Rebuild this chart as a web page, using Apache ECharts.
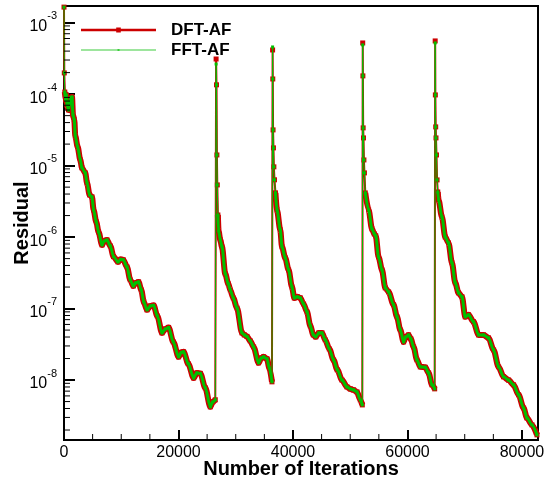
<!DOCTYPE html>
<html>
<head>
<meta charset="utf-8">
<script src="https://cdn.jsdelivr.net/npm/echarts@6/dist/echarts.min.js"></script>
<style>html,body{margin:0;padding:0;background:#fff}#c{width:545px;height:485px}</style>
</head>
<body>
<div id="c"></div>
<script>
// ---- data ----
const iterations = [
  0, 50, 140, 280, 400, 520, 800, 1100, 1400, 1570, 1800, 1970, 2380, 2850, 3140, 3720, 4020, 4470, 4890, 5170,
  5640, 6040, 6640, 7040, 7510, 8090, 8660, 9430, 9920, 10360, 11000, 11580, 12110, 12540, 13030, 13500, 13940, 14500, 15070, 15650,
  16300, 17120, 17700, 18270, 19090, 20020, 20490, 20890, 21710, 22640, 23200, 23810, 24680, 25560, 25990, 26430,
  26570, 26640, 26710, 26780, 26880, 27000, 27300, 27600, 28170, 28700, 29050, 29570, 30220, 31090, 31500, 31960, 32540, 33120, 33990, 34470, 34870, 35460, 35870, 36330,
  36440, 36470, 36520, 36590, 36660, 36770, 36940, 37200, 37780, 38080, 38650, 39230, 39820, 40230, 40750, 41280, 41850, 42450, 43020, 43550, 43980, 44510, 45070, 45640, 46340, 47090, 47740, 48560, 49430, 50010, 50590, 51180, 51760, 52110,
  52180, 52210, 52260, 52320, 52390, 52480, 52630, 53210, 53800, 54200, 54460, 54950, 55550, 56120, 56700, 57570, 58170, 58740, 59320, 59710, 60190, 60580, 61070, 61660, 62240, 63110, 63690, 64280, 64750,
  64840, 64870, 64930, 64980, 65070, 65170, 65290, 65430, 66020, 66600, 67170, 67770, 68350, 68920, 69520, 70090, 70670, 71540, 72420, 73290, 74160, 75040, 75910, 76780, 77660, 78530, 79410, 80280, 80870, 81750, 82620
];
const dftResidual = [
  1.65e-3, 1.98e-4, 1.07e-4, 8.3e-5, 9.75e-5, 7.06e-5, 6.01e-5, 8.86e-5, 9.14e-5, 5.12e-5, 4.36e-5, 2.6e-5, 1.83e-5, 1.2e-5, 9.29e-6, 7.91e-6, 5.73e-6, 3.89e-6, 3.65e-6, 2.4e-6,
  1.63e-6, 1.18e-6, 7.78e-7, 8.85e-7, 9.14e-7, 7.53e-7, 5.33e-7, 4.5e-7, 4.88e-7, 4.8e-7, 3.83e-7, 2.52e-7, 2.07e-7, 2.29e-7, 2.36e-7, 1.82e-7, 1.24e-7, 9.59e-8, 1.09e-7, 1.11e-7,
  7.88e-8, 4.57e-8, 5.19e-8, 5.45e-8, 3.42e-8, 2.11e-8, 2.44e-8, 2.48e-8, 1.69e-8, 1.07e-8, 1.26e-8, 1.24e-8, 7.78e-9, 4.22e-9, 4.95e-9, 5.3e-9,
  3.1e-4, 1.35e-4, 1.41e-5, 5.37e-6, 2.04e-6, 1.22e-6, 9.14e-7, 7.3e-7, 3.06e-7, 2.22e-7, 1.82e-7, 1.41e-7, 1.02e-7, 4.57e-8, 4.28e-8, 4.08e-8, 3.53e-8, 2.91e-8, 1.74e-8, 2.04e-8, 2.11e-8, 1.98e-8, 1.48e-8, 9.44e-9,
  4.15e-4, 1.63e-4, 3.16e-5, 1.77e-5, 9.61e-6, 6.33e-6, 4.16e-6, 2.4e-6, 1.26e-6, 7.3e-7, 5.12e-7, 3.48e-7, 2.01e-7, 1.41e-7, 1.46e-7, 1.41e-7, 1.16e-7, 9.0e-8, 5.73e-8, 4.28e-8, 4.02e-8, 4.57e-8, 4.57e-8, 3.65e-8, 2.73e-8, 1.91e-8, 1.39e-8, 1.0e-8, 8.02e-9, 7.52e-9, 7.28e-9, 6.82e-9, 5.27e-9, 4.49e-9,
  5.2e-4, 1.8e-4, 3.37e-5, 2.44e-5, 1.2e-5, 7.91e-6, 4.15e-6, 2.4e-6, 1.3e-6, 1.11e-6, 1.04e-6, 5.28e-7, 3.48e-7, 1.95e-7, 1.71e-7, 1.13e-7, 7.66e-8, 5.04e-8, 3.42e-8, 4.02e-8, 4.28e-8, 3.77e-8, 2.91e-8, 1.91e-8, 1.53e-8, 1.51e-8, 1.26e-8, 8.57e-9, 7.53e-9,
  5.55e-4, 9.75e-5, 3.48e-5, 2.44e-5, 1.41e-5, 6.31e-6, 4.28e-6, 3.31e-6, 1.91e-6, 1.0e-6, 8.29e-7, 4.36e-7, 2.29e-7, 1.66e-7, 1.46e-7, 7.66e-8, 8.17e-8, 6.52e-8, 4.28e-8, 4.28e-8, 3.89e-8, 2.64e-8, 1.53e-8, 1.11e-8, 1.0e-8, 8.57e-9, 6.21e-9, 4.07e-9, 2.95e-9, 2.36e-9, 1.71e-9
];
const fftResidual = [
  1.65e-3, 1.98e-4, 1.07e-4, 8.3e-5, 9.75e-5, 7.06e-5, 6.01e-5, 8.86e-5, 9.14e-5, 5.12e-5, 4.36e-5, 2.6e-5, 1.83e-5, 1.2e-5, 9.29e-6, 7.91e-6, 5.73e-6, 3.89e-6, 3.65e-6, 2.4e-6,
  1.63e-6, 1.18e-6, 7.78e-7, 8.85e-7, 9.14e-7, 7.53e-7, 5.33e-7, 4.5e-7, 4.88e-7, 4.8e-7, 3.83e-7, 2.52e-7, 2.07e-7, 2.29e-7, 2.36e-7, 1.82e-7, 1.24e-7, 9.59e-8, 1.09e-7, 1.11e-7,
  7.88e-8, 4.57e-8, 5.19e-8, 5.45e-8, 3.42e-8, 2.11e-8, 2.44e-8, 2.48e-8, 1.69e-8, 1.07e-8, 1.26e-8, 1.24e-8, 7.78e-9, 4.22e-9, 4.95e-9, 5.3e-9,
  2.64e-4, 1.35e-4, 1.41e-5, 5.37e-6, 2.04e-6, 1.22e-6, 9.14e-7, 7.3e-7, 3.06e-7, 2.22e-7, 1.82e-7, 1.41e-7, 1.02e-7, 4.57e-8, 4.28e-8, 4.08e-8, 3.53e-8, 2.91e-8, 1.74e-8, 2.04e-8, 2.11e-8, 1.98e-8, 1.48e-8, 9.44e-9,
  4.57e-4, 1.63e-4, 3.16e-5, 1.77e-5, 9.61e-6, 6.33e-6, 4.16e-6, 2.4e-6, 1.26e-6, 7.3e-7, 5.12e-7, 3.48e-7, 2.01e-7, 1.41e-7, 1.46e-7, 1.41e-7, 1.16e-7, 9.0e-8, 5.73e-8, 4.28e-8, 4.02e-8, 4.57e-8, 4.57e-8, 3.65e-8, 2.73e-8, 1.91e-8, 1.39e-8, 1.0e-8, 8.02e-9, 7.52e-9, 7.28e-9, 6.82e-9, 5.27e-9, 4.49e-9,
  4.88e-4, 1.8e-4, 3.37e-5, 2.44e-5, 1.2e-5, 7.91e-6, 4.15e-6, 2.4e-6, 1.3e-6, 1.11e-6, 1.04e-6, 5.28e-7, 3.48e-7, 1.95e-7, 1.71e-7, 1.13e-7, 7.66e-8, 5.04e-8, 3.42e-8, 4.02e-8, 4.28e-8, 3.77e-8, 2.91e-8, 1.91e-8, 1.53e-8, 1.51e-8, 1.26e-8, 8.57e-9, 7.53e-9,
  5.2e-4, 9.75e-5, 3.48e-5, 2.44e-5, 1.41e-5, 6.31e-6, 4.28e-6, 3.31e-6, 1.91e-6, 1.0e-6, 8.29e-7, 4.36e-7, 2.29e-7, 1.66e-7, 1.46e-7, 7.66e-8, 8.17e-8, 6.52e-8, 4.28e-8, 4.28e-8, 3.89e-8, 2.64e-8, 1.53e-8, 1.11e-8, 1.0e-8, 8.57e-9, 6.21e-9, 4.07e-9, 2.95e-9, 2.36e-9, 1.71e-9
];
// index ranges [restart point, first point where markers merge into a band)
const restartIdx = [0, 56, 80, 114, 143];
const bandStartIdx = [2, 60, 86, 120, 149];

const seriesNames = ['DFT-AF', 'FFT-AF'];
const xTickValues = [0, 20000, 40000, 60000, 80000];
const xMinorValues = [5000, 10000, 15000, 25000, 30000, 35000, 45000, 50000, 55000, 65000, 70000, 75000];
const yTickValues = [1e-8, 1e-7, 1e-6, 1e-5, 1e-4, 1e-3];
const xRange = [0, 82800];
const yRange = [1.45e-9, 1.71e-3];

// minor log ticks (2..9 x 10^n) inside range
const yMinorValues = [];
for (let n = -9; n <= -3; n++) {
  for (let k = 2; k <= 9; k++) {
    const v = k * Math.pow(10, n);
    if (v > yRange[0] && v < yRange[1]) yMinorValues.push(v);
  }
}

const RED = '#cc0000';
const GREEN = '#00c000';
const FONT = '"Liberation Sans", Arial, Helvetica, sans-serif';

const chart = echarts.init(document.getElementById('c'), null, {renderer: 'canvas'});

const inBand = i => !restartIdx.some((s, k) => i >= s && i < bandStartIdx[k]);
const dftData = iterations.map((x, i) => [x, dftResidual[i]]);
const fftData = iterations.map((x, i) => [x, fftResidual[i]]);
const dftBand = iterations.map((x, i) => inBand(i) ? [x, dftResidual[i]] : null);
const fftBand = iterations.map((x, i) => inBand(i) ? [x, fftResidual[i]] : null);

const dftIcon = 'path://M0,0L0.001,0Z M85,20L84.999,20Z M0,8.8H75V11.2H0Z M35.2,7.6H39.8V12.4H35.2Z';
const fftIcon = 'path://M0,0L0.001,0Z M85,20L84.999,20Z M0,9.5H75V10.5H0Z M36.5,9H38.5V11H36.5Z';

const thinCommon = {type: 'line', silent: true, smooth: false, connectNulls: false};
const bandCommon = {type: 'line', silent: true, smooth: 0.3, smoothMonotone: 'x', connectNulls: false, showSymbol: false};

const option = {
  animation: false,
  backgroundColor: '#fff',
  grid: {left: 64, right: 7, top: 6, bottom: 45, show: true, borderColor: '#000', borderWidth: 2,
         containLabel: false, outerBoundsMode: 'none'},
  legend: {
    orient: 'vertical', left: 81, top: 20, padding: 0, itemGap: 0,
    itemWidth: 85, itemHeight: 20, selectedMode: false,
    textStyle: {fontFamily: FONT, fontSize: 17, fontWeight: 'bold', color: '#000', lineHeight: 20},
    data: [
      {name: seriesNames[0], icon: dftIcon, itemStyle: {color: RED, borderWidth: 0}},
      {name: seriesNames[1], icon: fftIcon, itemStyle: {color: '#3ccc3c', borderWidth: 0}}
    ]
  },
  xAxis: {
    type: 'value', min: xRange[0], max: xRange[1],
    axisLine: {lineStyle: {color: '#000', width: 2}},
    axisTick: {inside: true, length: 10, lineStyle: {color: '#000', width: 2}, customValues: xTickValues},
    axisLabel: {customValues: xTickValues, color: '#000', fontSize: 16, fontFamily: FONT, margin: 5,
                formatter: v => String(Math.round(v))},
    splitLine: {show: false},
    name: 'Number of Iterations', nameLocation: 'middle', nameGap: 19, nameMoveOverlap: false,
    nameTextStyle: {fontFamily: FONT, fontSize: 20, fontWeight: 'bold', color: '#000'}
  },
  yAxis: {
    type: 'log', logBase: 10, min: yRange[0], max: yRange[1],
    axisLine: {lineStyle: {color: '#000', width: 2}},
    axisTick: {inside: true, length: 11, lineStyle: {color: '#000', width: 2}, customValues: yTickValues},
    axisLabel: {
      customValues: yTickValues, margin: 7,
      formatter: v => '{b|10}{s|' + Math.round(Math.log10(v)) + '}',
      rich: {
        b: {fontFamily: FONT, fontSize: 16, color: '#000', lineHeight: 24, verticalAlign: 'bottom'},
        s: {fontFamily: FONT, fontSize: 11, color: '#000', lineHeight: 10, verticalAlign: 'top'}
      }
    },
    splitLine: {show: false},
    name: 'Residual', nameLocation: 'middle', nameGap: 32, nameRotate: 90, nameMoveOverlap: false,
    nameTextStyle: {fontFamily: FONT, fontSize: 20, fontWeight: 'bold', color: '#000'}
  },
  series: [
    Object.assign({}, thinCommon, {
      name: seriesNames[0], data: dftData, showSymbol: true, showAllSymbol: true,
      symbol: 'rect', symbolSize: 5,
      lineStyle: {color: RED, width: 2}, itemStyle: {color: RED}, z: 2
    }),
    Object.assign({}, bandCommon, {
      name: seriesNames[0], data: dftBand,
      lineStyle: {color: RED, width: 6}, itemStyle: {color: RED}, z: 3
    }),
    Object.assign({}, thinCommon, {
      name: seriesNames[1], data: fftData, showSymbol: true, showAllSymbol: true,
      symbol: 'rect', symbolSize: 3,
      lineStyle: {color: GREEN, width: 1}, itemStyle: {color: GREEN}, z: 4
    }),
    Object.assign({}, bandCommon, {
      name: seriesNames[1], data: fftBand,
      lineStyle: {color: GREEN, width: 3}, itemStyle: {color: GREEN}, z: 5
    }),
    {
      type: 'custom', name: 'yMinor', silent: true, z: 6,
      data: yMinorValues.map(v => [xRange[0], v]),
      renderItem: (params, api) => {
        const p = api.coord([api.value(0), api.value(1)]);
        return {type: 'line', shape: {x1: p[0], y1: p[1], x2: p[0] + 6, y2: p[1]}, style: {stroke: '#000', lineWidth: 1}};
      }
    },
    {
      type: 'custom', name: 'xMinor', silent: true, z: 6,
      data: xMinorValues.map(v => [v, yRange[0]]),
      renderItem: (params, api) => {
        const p = api.coord([api.value(0), api.value(1)]);
        return {type: 'line', shape: {x1: p[0], y1: p[1], x2: p[0], y2: p[1] - 6}, style: {stroke: '#000', lineWidth: 1}};
      }
    }
  ]
};
chart.setOption(option);
</script>
</body>
</html>
